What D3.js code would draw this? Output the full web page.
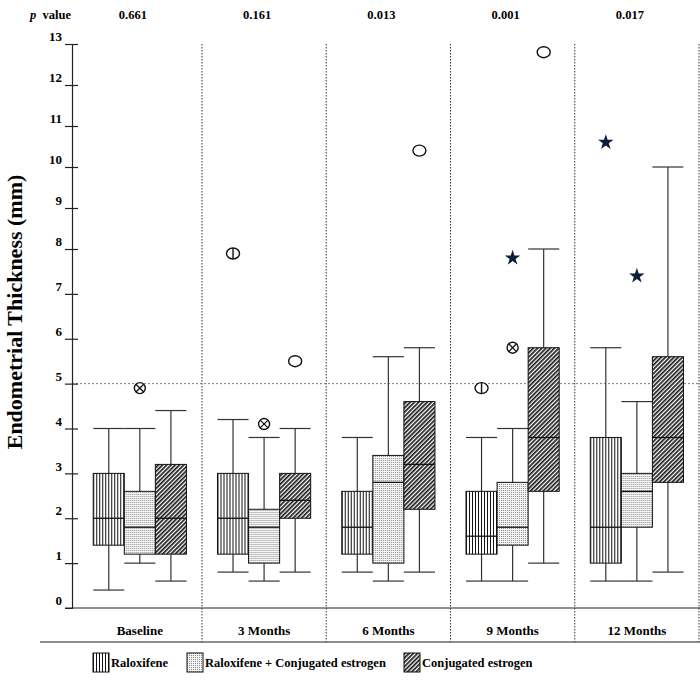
<!DOCTYPE html>
<html>
<head>
<meta charset="utf-8">
<script src="https://cdn.jsdelivr.net/npm/d3@7"></script>
<style>
    body { margin: 0; background: #fff; }
    text { font-family: "Liberation Serif", "Times New Roman", serif; font-weight: bold; fill: #000; }
</style>
</head>
<body>
<div class="boxchart"></div>
<script>
// chart data
const timepoints = ["Baseline", "3 Months", "6 Months", "9 Months", "12 Months"];
const pValues = ["0.661", "0.161", "0.013", "0.001", "0.017"];
const groups = ["Raloxifene", "Raloxifene + Conjugated estrogen", "Conjugated estrogen"];
const yTicks = [0, 1, 2, 3, 4, 5, 6, 7, 8, 9, 10, 11, 12, 13];
const cutoff = 5;

// [min, q1, median, q3, max] for each timepoint
const raloxifene = [
    [0.4, 1.4, 2.0, 3.0, 4.0],
    [0.8, 1.2, 2.0, 3.0, 4.2],
    [0.8, 1.2, 1.8, 2.6, 3.8],
    [0.6, 1.2, 1.6, 2.6, 3.8],
    [0.6, 1.0, 1.8, 3.8, 5.8]
];
const combination = [
    [1.0, 1.2, 1.8, 2.6, 4.0],
    [0.6, 1.0, 1.8, 2.2, 3.8],
    [0.6, 1.0, 2.8, 3.4, 5.6],
    [0.6, 1.4, 1.8, 2.8, 4.0],
    [0.6, 1.8, 2.6, 3.0, 4.6]
];
const conjugated = [
    [0.6, 1.2, 2.0, 3.2, 4.4],
    [0.8, 2.0, 2.4, 3.0, 4.0],
    [0.8, 2.2, 3.2, 4.6, 5.8],
    [1.0, 2.6, 3.8, 5.8, 8.0],
    [0.8, 2.8, 3.8, 5.6, 10.0]
];
const seriesValues = [raloxifene, combination, conjugated];

// outliers / extremes
const outlierTime = ["Baseline", "3 Months", "3 Months", "3 Months", "6 Months", "9 Months", "9 Months", "9 Months", "9 Months", "12 Months", "12 Months"];
const outlierGroup = [1, 0, 1, 2, 2, 0, 1, 1, 2, 0, 1];
const outlierValue = [4.9, 7.9, 4.1, 5.5, 10.4, 4.9, 5.8, 7.8, 12.8, 10.6, 7.4];
const outlierMark = ["cross", "bar", "cross", "circle", "circle", "bar", "cross", "star", "circle", "star", "star"];

const patternIds = ["vlines", "dots", "diag"];

const width = 700, height = 680;

const svg = d3.select(".boxchart")
    .append("svg")
    .attr("width", width)
    .attr("height", height);

// fill patterns
const defs = svg.append("defs");

const pv = defs.append("pattern")
    .attr("id", "vlines")
    .attr("patternUnits", "userSpaceOnUse")
    .attr("width", 3).attr("height", 10);
pv.append("rect").attr("width", 3).attr("height", 10).attr("fill", "#fff");
pv.append("line").attr("x1", 0.5).attr("x2", 0.5).attr("y1", 0).attr("y2", 10)
    .attr("stroke", "#111").attr("stroke-width", 1);

const pd = defs.append("pattern")
    .attr("id", "dots")
    .attr("patternUnits", "userSpaceOnUse")
    .attr("width", 2).attr("height", 2);
pd.append("rect").attr("width", 2).attr("height", 2).attr("fill", "#f6f6f6");
pd.append("rect").attr("width", 1).attr("height", 1).attr("fill", "#8a8a8a");

const pg = defs.append("pattern")
    .attr("id", "diag")
    .attr("patternUnits", "userSpaceOnUse")
    .attr("patternTransform", "rotate(45)")
    .attr("width", 3).attr("height", 10);
pg.append("rect").attr("width", 3).attr("height", 10).attr("fill", "#fff");
pg.append("line").attr("x1", 0.85).attr("x2", 0.85).attr("y1", 0).attr("y2", 10)
    .attr("stroke", "#1a1a1a").attr("stroke-width", 1.7);

// scales
const axisX = 72;
const xScale = d3.scaleBand()
    .domain(timepoints)
    .range([77.7, 699]);

const groupScale = d3.scaleBand()
    .domain(d3.range(groups.length))
    .range([0, xScale.bandwidth()])
    .paddingOuter(0.5);

// the original axis is not evenly spaced above 8
const yScale = d3.scaleLinear()
    .domain([0, 8, 13])
    .range([608, 249, 44]);

// horizontal lines at the bottom
svg.append("line")
    .attr("x1", axisX - 7).attr("x2", width)
    .attr("y1", yScale(0)).attr("y2", yScale(0))
    .attr("stroke", "#222").attr("stroke-width", 1.2);

svg.append("line")
    .attr("x1", 40).attr("x2", width)
    .attr("y1", 642).attr("y2", 642)
    .attr("stroke", "#222").attr("stroke-width", 1.2);

// dotted separators between timepoints
const seps = timepoints.slice(1).map(d => xScale(d)).concat([xScale.range()[1]]);
svg.selectAll(".sep")
    .data(seps)
    .join("line")
    .attr("class", "sep")
    .attr("x1", d => d).attr("x2", d => d)
    .attr("y1", yScale(13)).attr("y2", 642)
    .attr("stroke", "#333")
    .attr("stroke-width", 1)
    .attr("stroke-dasharray", "1.5,1.5");

// reference line at 5 mm
svg.append("line")
    .attr("x1", axisX).attr("x2", width)
    .attr("y1", yScale(cutoff)).attr("y2", yScale(cutoff))
    .attr("stroke", "#777")
    .attr("stroke-width", 1)
    .attr("stroke-dasharray", "2,2");

// y axis
const yAxis = d3.axisLeft(yScale)
    .tickValues(yTicks)
    .tickSizeOuter(0)
    .tickSize(7);

const yAxisGroup = svg.append("g")
    .attr("class", "axis y-axis")
    .attr("transform", "translate(" + axisX + ",0)")
    .call(yAxis);

yAxisGroup.select(".domain").attr("stroke", "#222").attr("stroke-width", 1.2);
yAxisGroup.selectAll(".tick line")
    .attr("x1", -7).attr("x2", 6)
    .attr("stroke", "#222").attr("stroke-width", 1.2);
yAxisGroup.selectAll(".tick text")
    .attr("x", -10)
    .attr("dy", "-0.26em")
    .style("font-family", "Liberation Serif, serif")
    .style("font-weight", "bold")
    .style("font-size", "13px")
    .attr("fill", "#000");
yAxisGroup.selectAll(".tick").filter(d => d === 0).select("line").remove();

// y label
svg.append("text")
    .attr("transform", "translate(22,312) rotate(-90)")
    .attr("text-anchor", "middle")
    .style("font-size", "22px")
    .text("Endometrial Thickness (mm)");

// p values
const pLabel = svg.append("text")
    .attr("x", 71).attr("y", 19)
    .attr("text-anchor", "end")
    .style("font-size", "12.5px");
pLabel.append("tspan").style("font-style", "italic").text("p");
pLabel.append("tspan").text("\u00a0 value");

svg.selectAll(".pval")
    .data(pValues)
    .join("text")
    .attr("class", "pval")
    .attr("x", (d, i) => xScale(timepoints[i]) + xScale.bandwidth() / 2 - 7)
    .attr("y", 19)
    .attr("text-anchor", "middle")
    .style("font-size", "12.5px")
    .text(d => d);

// category labels
svg.selectAll(".xlabel")
    .data(timepoints)
    .join("text")
    .attr("class", "xlabel")
    .attr("x", d => xScale(d) + xScale.bandwidth() / 2)
    .attr("y", 635)
    .attr("text-anchor", "middle")
    .style("font-size", "13px")
    .text(d => d);

// boxes
const boxData = [];
seriesValues.forEach((series, g) => {
    series.forEach((v, t) => {
        boxData.push({ time: timepoints[t], group: g, min: v[0], q1: v[1], med: v[2], q3: v[3], max: v[4] });
    });
});

const bw = groupScale.bandwidth();

const boxes = svg.selectAll(".box")
    .data(boxData)
    .join("g")
    .attr("class", "box")
    .attr("transform", d => "translate(" + (xScale(d.time) + groupScale(d.group)) + ",0)");

// whiskers
boxes.append("line")
    .attr("x1", bw / 2).attr("x2", bw / 2)
    .attr("y1", d => yScale(d.max)).attr("y2", d => yScale(d.q3))
    .attr("stroke", "#333").attr("stroke-width", 1.2);
boxes.append("line")
    .attr("x1", bw / 2).attr("x2", bw / 2)
    .attr("y1", d => yScale(d.q1)).attr("y2", d => yScale(d.min))
    .attr("stroke", "#333").attr("stroke-width", 1.2);
boxes.append("line")
    .attr("x1", 0).attr("x2", bw)
    .attr("y1", d => yScale(d.max)).attr("y2", d => yScale(d.max))
    .attr("stroke", "#333").attr("stroke-width", 1.2);
boxes.append("line")
    .attr("x1", 0).attr("x2", bw)
    .attr("y1", d => yScale(d.min)).attr("y2", d => yScale(d.min))
    .attr("stroke", "#333").attr("stroke-width", 1.2);

boxes.append("rect")
    .attr("x", 0)
    .attr("width", bw)
    .attr("y", d => yScale(d.q3))
    .attr("height", d => yScale(d.q1) - yScale(d.q3))
    .attr("fill", d => "url(#" + patternIds[d.group] + ")")
    .attr("stroke", "#111")
    .attr("stroke-width", 1);

boxes.append("line")
    .attr("x1", 0).attr("x2", bw)
    .attr("y1", d => yScale(d.med)).attr("y2", d => yScale(d.med))
    .attr("stroke", "#111").attr("stroke-width", 1.3);

// outliers
const outliers = outlierValue.map((v, i) => ({
    time: outlierTime[i], group: outlierGroup[i], value: v, mark: outlierMark[i]
}));

const marks = svg.selectAll(".outlier")
    .data(outliers)
    .join("g")
    .attr("class", "outlier")
    .attr("transform", d => "translate(" + (xScale(d.time) + groupScale(d.group) + bw / 2) + "," + yScale(d.value) + ")");

marks.filter(d => d.mark !== "star")
    .append("ellipse")
    .attr("rx", d => d.mark === "cross" ? 5.5 : 6.5)
    .attr("ry", 5.5)
    .attr("fill", "#fff")
    .attr("stroke", "#111")
    .attr("stroke-width", 1.4);

marks.filter(d => d.mark === "bar")
    .append("line")
    .attr("x1", 0).attr("x2", 0)
    .attr("y1", -5.5).attr("y2", 5.5)
    .attr("stroke", "#111").attr("stroke-width", 1.4);

marks.filter(d => d.mark === "cross")
    .append("path")
    .attr("d", "M-3.9,-3.9L3.9,3.9M-3.9,3.9L3.9,-3.9")
    .attr("stroke", "#111").attr("stroke-width", 1.3);

marks.filter(d => d.mark === "star")
    .append("path")
    .attr("d", d3.symbol(d3.symbolStar, 75))
    .attr("fill", "#0b1d3a");

// legend
const legendX = [93, 187, 404];
const legend = svg.selectAll(".legend")
    .data(groups)
    .join("g")
    .attr("class", "legend")
    .attr("transform", (d, i) => "translate(" + legendX[i] + ",653)");

legend.append("rect")
    .attr("width", 16).attr("height", 19)
    .attr("fill", (d, i) => "url(#" + patternIds[i] + ")")
    .attr("stroke", "#111").attr("stroke-width", 1);

legend.append("text")
    .attr("x", 18).attr("y", 14)
    .style("font-size", "12.5px")
    .text(d => d);
</script>
</body>
</html>
